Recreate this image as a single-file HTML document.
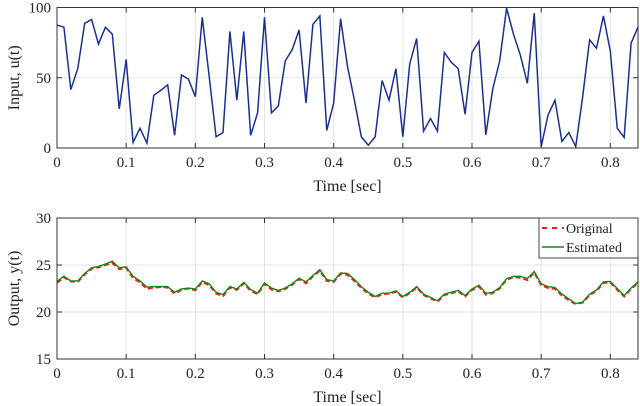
<!DOCTYPE html>
<html><head><meta charset="utf-8"><style>
body{margin:0;background:#fff}
svg{display:block}
text{font-family:"Liberation Serif",serif;fill:#222}
</style></head><body>
<svg id="chart" width="640" height="406" xmlns="http://www.w3.org/2000/svg"></svg>
<script>
const times = Array.from({length:85},(_,i)=>i/100);
const inputU = [87.5,86,41.6,56.5,88.7,91.5,74,86,81,27.8,63,4,14,3.5,37.5,41,45,9,52,49,36.5,93,51,8,11,83,34,83,9,25,93,25,30,62,70,84,32,88,94,12.5,32,92,58,34,8,2,8,48,34,56.5,8,60,78,12,21,12,68,61,56.5,24,68,76,9.4,42,62,99.5,81,66,46,96,1,23.5,34,4.7,11,1,36.5,77,71,94,69,14,7.5,74.6,86];
const estimatedY = [23.25,23.8,23.3,23.3,24.1,24.7,24.85,25.1,25.4,24.7,24.8,23.8,23.3,22.65,22.7,22.7,22.7,22.1,22.45,22.55,22.45,23.3,23.0,22.1,21.85,22.7,22.45,23.15,22.4,22.0,23.1,22.55,22.3,22.55,23.0,23.6,23.2,23.9,24.5,23.45,23.3,24.15,24.1,23.45,22.7,22.1,21.65,22.0,22.0,22.25,21.65,22.1,22.7,21.9,21.55,21.2,21.9,22.1,22.3,21.75,22.45,22.85,22.0,22.1,22.6,23.55,23.8,23.8,23.55,24.3,23.0,22.7,22.6,21.9,21.4,20.9,21.05,21.9,22.35,23.2,23.25,22.5,21.75,22.55,23.2];
const originalY = [23.1,23.7,23.25,23.2,24.0,24.6,24.75,25.0,25.2,24.55,24.7,23.6,23.15,22.45,22.6,22.65,22.6,21.95,22.35,22.5,22.3,23.2,22.85,21.95,21.7,22.6,22.35,23.05,22.25,21.9,23.0,22.4,22.2,22.45,22.9,23.5,23.05,23.8,24.4,23.3,23.2,24.05,23.95,23.3,22.55,21.95,21.55,21.9,21.95,22.15,21.55,22.0,22.6,21.8,21.45,21.1,21.8,22.0,22.2,21.65,22.35,22.7,21.85,22.0,22.5,23.45,23.7,23.65,23.4,24.2,22.85,22.55,22.45,21.75,21.25,20.85,21.0,21.8,22.25,23.1,23.15,22.35,21.65,22.45,23.1];
const xTicks = [0,0.1,0.2,0.3,0.4,0.5,0.6,0.7,0.8];
const xTickLabels = ["0","0.1","0.2","0.3","0.4","0.5","0.6","0.7","0.8"];
const topYTicks = [0,50,100];
const botYTicks = [15,20,25,30];

const NS="http://www.w3.org/2000/svg";
const svg=document.getElementById('chart');
function mk(tag,attrs,parent){const e=document.createElementNS(NS,tag);for(const k in attrs)e.setAttribute(k,attrs[k]);(parent||svg).appendChild(e);return e;}
const X0=57,X1=638;
const xs=t=>X0+t/0.84*(X1-X0);

function panel(name,top,bot,ymin,ymax,yTicks,ylabel){
  const ys=v=>bot-(v-ymin)/(ymax-ymin)*(bot-top);
  const g=mk('g',{});
  
  
  xTicks.forEach((t,i)=>{
    const l=mk('line',{x1:xs(t),x2:xs(t),y1:top,y2:bot,stroke:'#e3e3e3','stroke-width':1},g);
    
    mk('line',{x1:xs(t),x2:xs(t),y1:bot,y2:bot-5,stroke:'#333'},g);
    mk('line',{x1:xs(t),x2:xs(t),y1:top,y2:top+5,stroke:'#333'},g);
    const tx=mk('text',{x:xs(t),y:bot+19,'text-anchor':'middle','font-size':15},g);
    tx.textContent=xTickLabels[i];
    
  });
  yTicks.forEach(v=>{
    const l=mk('line',{x1:X0,x2:X1,y1:ys(v),y2:ys(v),stroke:'#e3e3e3'},g);
    
    mk('line',{x1:X0,x2:X0+5,y1:ys(v),y2:ys(v),stroke:'#333'},g);
    mk('line',{x1:X1,x2:X1-5,y1:ys(v),y2:ys(v),stroke:'#333'},g);
    const tx=mk('text',{x:51,y:ys(v)+5,'text-anchor':'end','font-size':15},g);
    tx.textContent=v;
    
  });
  const xt=mk('text',{x:(X0+X1)/2,y:bot+43,'text-anchor':'middle','font-size':16},g);
  xt.textContent='Time [sec]';
  
  const cy=(top+bot)/2;
  const yt=mk('text',{x:0,y:0,'text-anchor':'middle','font-size':16,transform:`translate(19,${cy}) rotate(-90)`},g);
  yt.textContent=ylabel;
  
  return {g,ys,top,bot};
}
function line(p,vals,attrs,name){
  const d=vals.map((v,i)=>(i?'L':'M')+xs(times[i]).toFixed(2)+','+p.ys(v).toFixed(2)).join('');
  const e=mk('path',Object.assign({d,fill:'none'},attrs),p.g);
  
}
function frame(p){
  const r=mk('rect',{x:X0,y:p.top,width:X1-X0,height:p.bot-p.top,fill:'none',stroke:'#333','stroke-width':1},p.g);
  
}
const p1=panel('input-plot',7.5,148,0,100,topYTicks,'Input, u(t)');
line(p1,inputU,{stroke:'#1a2f96','stroke-width':1.5},'input-series');
frame(p1);
const p2=panel('output-plot',218,359,15,30,botYTicks,'Output, y(t)');
line(p2,originalY,{stroke:'#ff1a1a','stroke-width':2,'stroke-dasharray':'5,3'},'original-series');
line(p2,estimatedY,{stroke:'#118811','stroke-width':1.4},'estimated-series');
frame(p2);
// legend
const lg=mk('g',{});

mk('rect',{x:539,y:218,width:99,height:40,fill:'#fff',stroke:'#444'},lg);
mk('line',{x1:542,x2:564,y1:228,y2:228,stroke:'#ff1a1a','stroke-width':2,'stroke-dasharray':'5,5'},lg);
mk('line',{x1:542,x2:564,y1:247,y2:247,stroke:'#118811','stroke-width':1.4},lg);
const t1=mk('text',{x:566,y:233,'font-size':14},lg);t1.textContent='Original';

const t2=mk('text',{x:566,y:252,'font-size':14},lg);t2.textContent='Estimated';

</script>
</body></html>
